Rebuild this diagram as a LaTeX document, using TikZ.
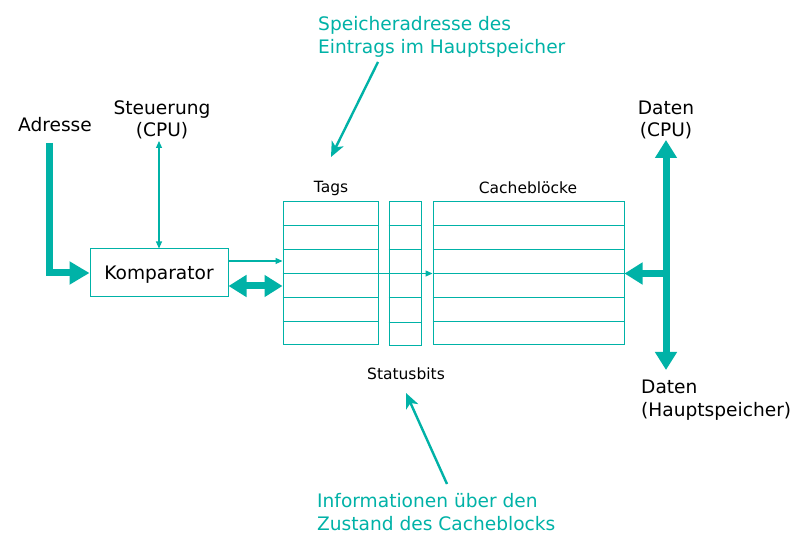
\documentclass[tikz,border=0pt]{standalone}
\usepackage{fontspec}
\setmainfont{DejaVu Sans}
\usetikzlibrary{arrows.meta,calc}
\definecolor{teal1}{RGB}{0,178,167}
\tikzset{
  big/.style={font=\fontsize{18.6}{22.5}\selectfont},
  small/.style={font=\fontsize{15.5}{18}\selectfont},
  box/.style={draw=teal1,line width=1pt,inner sep=0pt},
  thinarrow/.style={draw=teal1,line width=1.1pt,-{Triangle[length=7pt,width=6pt]}},
  thindouble/.style={draw=teal1,line width=1.1pt,{Triangle[length=7pt,width=6pt]}-{Triangle[length=7pt,width=6pt]}},
  bus/.style={draw=teal1,line width=7pt,-{Triangle[length=20pt,width=22pt]}},
  busdouble/.style={draw=teal1,line width=7pt,{Triangle[length=18pt,width=21pt]}-{Triangle[length=18pt,width=21pt]}},
  note/.style={draw=teal1,line width=2.4pt,-{Stealth[length=15pt,width=13pt,inset=4pt]}},
  notetext/.style={text=teal1,font=\fontsize{18.6}{23}\selectfont,align=left,inner sep=0pt},
}
\begin{document}
\begin{tikzpicture}[x=1pt,y=-1pt]
\useasboundingbox[fill=white] (0,0) rectangle (798,534);
% labels
\node[big,inner sep=0pt] (adr) at (55,125) {Adresse};
\node[big,align=center,inner sep=0pt] (steuer) at (162,120) {Steuerung\\(CPU)};
\node[big,align=center,inner sep=0pt] (dcpu) at (666,120) {Daten\\(CPU)};
\node[big,align=left,inner sep=0pt,anchor=west] (dhs) at (641,400) {Daten\\(Hauptspeicher)};
% comparator
\node[box,big,minimum width=138pt,minimum height=48pt,text height=13pt,text depth=0pt] (komp) at (159,273) {Komparator};
% tables
\node[box,minimum width=95pt,minimum height=143pt] (tags) at (330.5,273.5) {};
\node[box,minimum width=32pt,minimum height=144pt] (stat) at (405,274) {};
\node[box,minimum width=191pt,minimum height=143pt] (cache) at (528.5,273.5) {};
\foreach \i in {1,...,5}{
  \draw[teal1,line width=1pt] ($(tags.north west)!\i/6!(tags.south west)$) -- ($(tags.north east)!\i/6!(tags.south east)$);
  \draw[teal1,line width=1pt] ($(cache.north west)!\i/6!(cache.south west)$) -- ($(cache.north east)!\i/6!(cache.south east)$);
}
\foreach \y in {226,250,274,298,323}{
  \draw[teal1,line width=1pt] (stat.west |- 0,\y) -- (stat.east |- 0,\y);
}
\node[small,inner sep=0pt] (ltags) at (331,188) {Tags};
\node[small,inner sep=0pt] (lcache) at (528,188) {Cacheblöcke};
\node[small,inner sep=0pt] (lstat) at (406,374) {Statusbits};
% connectors
\coordinate (adrstart) at (49,143);
\draw[bus] (adrstart) |- (komp.west);
\draw[thindouble] (komp.north |- 0,141) -- (komp.north);
\draw[thinarrow] ([yshift=12pt]komp.east) -- ([yshift=12pt]komp.east -| tags.west);
\draw[busdouble] ([yshift=-13pt]komp.east) -- ([yshift=-13pt]komp.east -| tags.west);
\draw[thinarrow] (tags.east) -- (cache.west);
\coordinate (bustop) at (666,140);
\coordinate (busbot) at (666,370);
\coordinate (busmid) at (669,273.5);
\draw[busdouble] (bustop) -- (busbot);
\draw[bus,-{Triangle[length=18pt,width=21pt]}] (busmid) -- (cache.east);
% notes
\node[notetext,anchor=north west] (n1) at (318,16.5) {Speicheradresse des\\Eintrags im Hauptspeicher};
\node[notetext,anchor=north west] (n2) at (317,493.5) {Informationen über den\\Zustand des Cacheblocks};
\coordinate (n1a) at (378,62);
\coordinate (n1b) at (331,157);
\coordinate (n2a) at (447,484);
\coordinate (n2b) at (406,393);
\draw[note] (n1a) -- (n1b);
\draw[note] (n2a) -- (n2b);
\end{tikzpicture}
\end{document}
